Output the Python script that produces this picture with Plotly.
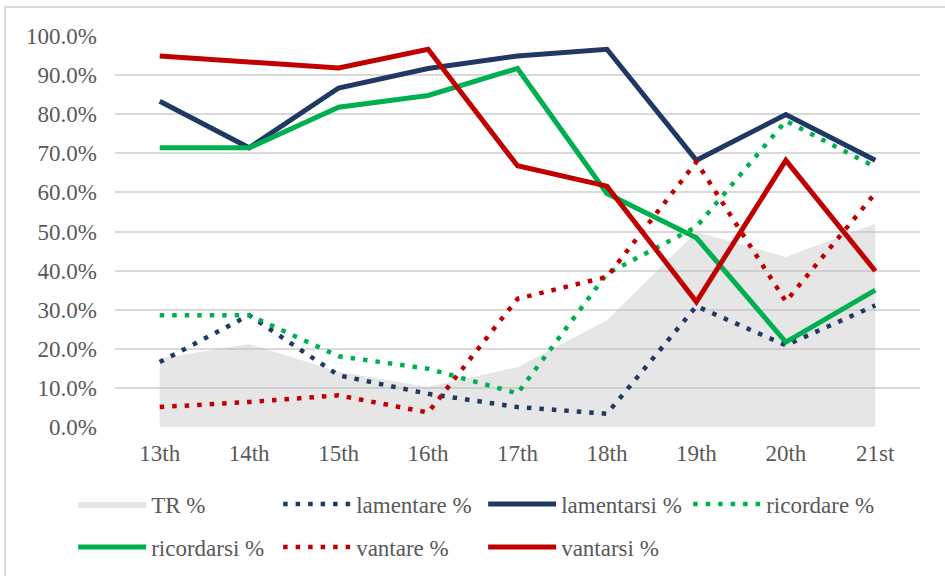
import plotly.graph_objects as go

centuries = ['13th', '14th', '15th', '16th', '17th', '18th', '19th', '20th', '21st']

tr = [17.5, 21.2, 14.1, 10.2, 15.3, 27.3, 49.9, 43.5, 52.0]
lamentare = [16.6, 28.6, 13.2, 8.5, 5.1, 3.4, 30.9, 20.9, 31.1]
lamentarsi = [83.3, 71.4, 86.7, 91.7, 94.9, 96.6, 68.2, 79.9, 68.2]
ricordare = [28.6, 28.6, 18.1, 14.9, 8.6, 39.2, 51.2, 78.3, 66.5]
ricordarsi = [71.4, 71.4, 81.8, 84.8, 91.7, 59.7, 48.4, 21.7, 35.0]
vantare = [5.1, 6.4, 8.1, 3.7, 32.8, 38.4, 67.8, 32.1, 59.8]
vantarsi = [94.9, 93.3, 91.8, 96.6, 66.8, 61.6, 32.0, 68.2, 39.9]

navy = '#203864'
green = '#00b050'
red = '#c00000'
dots = '4.5px,8px'

fig = go.Figure()
fig.add_trace(go.Scatter(x=centuries, y=tr, name='TR %', mode='lines', fill='tozeroy',
                         fillcolor='rgba(185,185,185,0.36)', line=dict(width=0),
                         legend='legend'))
fig.add_trace(go.Scatter(x=centuries, y=lamentare, name='lamentare %', mode='lines',
                         line=dict(color=navy, width=4.5, dash=dots), legend='legend'))
fig.add_trace(go.Scatter(x=centuries, y=lamentarsi, name='lamentarsi %', mode='lines',
                         line=dict(color=navy, width=5), legend='legend'))
fig.add_trace(go.Scatter(x=centuries, y=ricordare, name='ricordare %', mode='lines',
                         line=dict(color=green, width=4.5, dash=dots), legend='legend'))
fig.add_trace(go.Scatter(x=centuries, y=ricordarsi, name='ricordarsi %', mode='lines',
                         line=dict(color=green, width=5), legend='legend2'))
fig.add_trace(go.Scatter(x=centuries, y=vantare, name='vantare %', mode='lines',
                         line=dict(color=red, width=4.5, dash=dots), legend='legend2'))
fig.add_trace(go.Scatter(x=centuries, y=vantarsi, name='vantarsi %', mode='lines',
                         line=dict(color=red, width=5), legend='legend2'))

font = dict(family='Liberation Serif, Times New Roman, serif', size=23, color='#595959')
leg = dict(orientation='h', xanchor='left', yanchor='middle', font=font,
           entrywidth=122, itemwidth=68, bgcolor='rgba(0,0,0,0)', traceorder='normal')

fig.update_layout(
    width=945, height=576,
    margin=dict(l=115, r=25, t=36, b=149, autoexpand=False),
    plot_bgcolor='white', paper_bgcolor='white',
    font=font,
    legend=dict(leg, x=-0.052, y=-0.197),
    legend2=dict(leg, x=-0.052, y=-0.307),
    xaxis=dict(range=[-0.5, 8.5], showgrid=False, showline=False, zeroline=False,
               ticklabelstandoff=10),
    yaxis=dict(range=[0, 100], dtick=10, tickformat='.1f', ticksuffix='%',
               showgrid=True, gridcolor='#d9d9d9', gridwidth=1.5, zeroline=False,
               showline=False, ticklabelstandoff=17),
    shapes=[dict(type='rect', xref='paper', yref='paper', x0=-0.1366, y0=-2, x1=2, y1=1.074,
                 line=dict(color='#d9d9d9', width=2), fillcolor='rgba(0,0,0,0)')],
)

fig.write_html('out.html', config={'displayModeBar': False},
               post_script="document.body.style.margin='0';")
